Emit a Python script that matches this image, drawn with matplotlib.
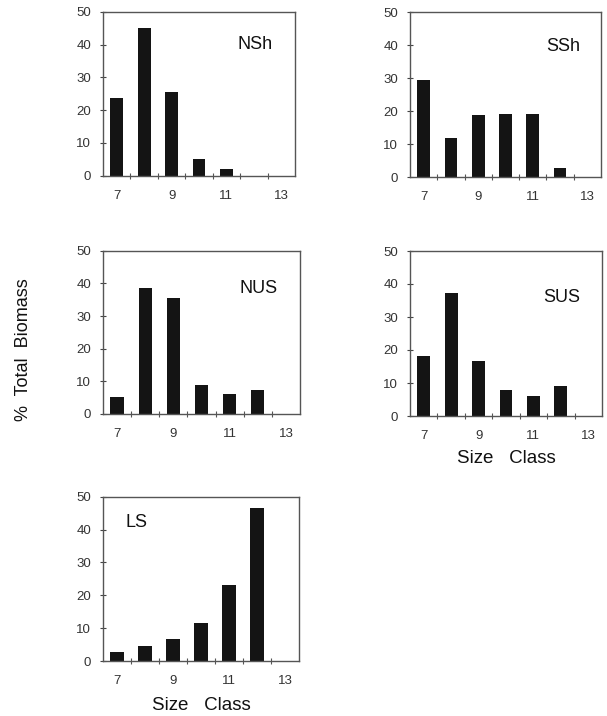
import numpy as np
import matplotlib
matplotlib.use('Agg')
import matplotlib.pyplot as plt

plt.rcParams['font.family'] = ['Liberation Sans', 'DejaVu Sans']

size_class = [7, 8, 9, 10, 11, 12]
xtick_vals = [7, 9, 11, 13]

nsh = [23.8, 45.1, 25.6, 5.1, 1.9, 0]
ssh = [29.5, 11.9, 19.0, 19.3, 19.3, 2.7]
nus = [5.2, 38.7, 35.6, 8.9, 6.1, 7.4]
sus = [18.1, 37.3, 16.6, 7.8, 6.0, 9.2]
ls = [2.7, 4.7, 6.7, 11.7, 23.0, 46.7]

W, H = 607, 716
fig = plt.figure(figsize=(W/100, H/100), dpi=100)

def px_axes(l, t, r, b):
    return fig.add_axes([l/W, 1-b/H, (r-l)/W, (b-t)/H])

# name, data, box in pixels, label position, x label pad (None = no label)
panels = [
    ('NSh', nsh, (103, 11.7, 295, 175.7), (0.79, 0.80), None),
    ('SSh', ssh, (410, 12.3, 601, 177.3), (0.80, 0.79), None),
    ('NUS', nus, (103, 250.7, 300, 414), (0.79, 0.77), None),
    ('SUS', sus, (410, 251, 602, 416), (0.79, 0.72), 6),
    ('LS', ls, (103, 496.7, 299, 661), (0.17, 0.84), 7),
]

for name, vals, box, lab, xpad in panels:
    ax = px_axes(*box)
    ax.bar(size_class, vals, width=0.47, color='#141414', edgecolor='none')
    ax.set_xlim(6.5, 13.5)
    ax.set_ylim(0, 50)
    ax.set_yticks([0, 10, 20, 30, 40, 50])
    ax.set_xticks(xtick_vals)
    ax.set_xticks([7.5, 8.5, 9.5, 10.5, 11.5, 12.5], minor=True)
    ax.tick_params(axis='y', direction='inout', length=5, width=0.8,
                   labelsize=9.5, pad=6, colors='#444', labelcolor='#333')
    ax.tick_params(axis='x', which='major', length=0, labelsize=9.5, pad=10,
                   labelcolor='#333')
    ax.tick_params(axis='x', which='minor', direction='inout', length=4,
                   width=0.8, colors='#555')
    for s in ax.spines.values():
        s.set_color('#555')
        s.set_linewidth(1.0)
    ax.text(lab[0], lab[1], name, transform=ax.transAxes, ha='center',
            va='center', fontsize=13, color='#111')
    if xpad is not None:
        ax.set_xlabel('Size   Class', fontsize=13.5, color='#111', labelpad=xpad)

fig.text(24/W, 1-350/H, '%  Total  Biomass', rotation=90, ha='center',
         va='center', fontsize=13, color='#111')

fig.savefig('out.png', dpi=100)
